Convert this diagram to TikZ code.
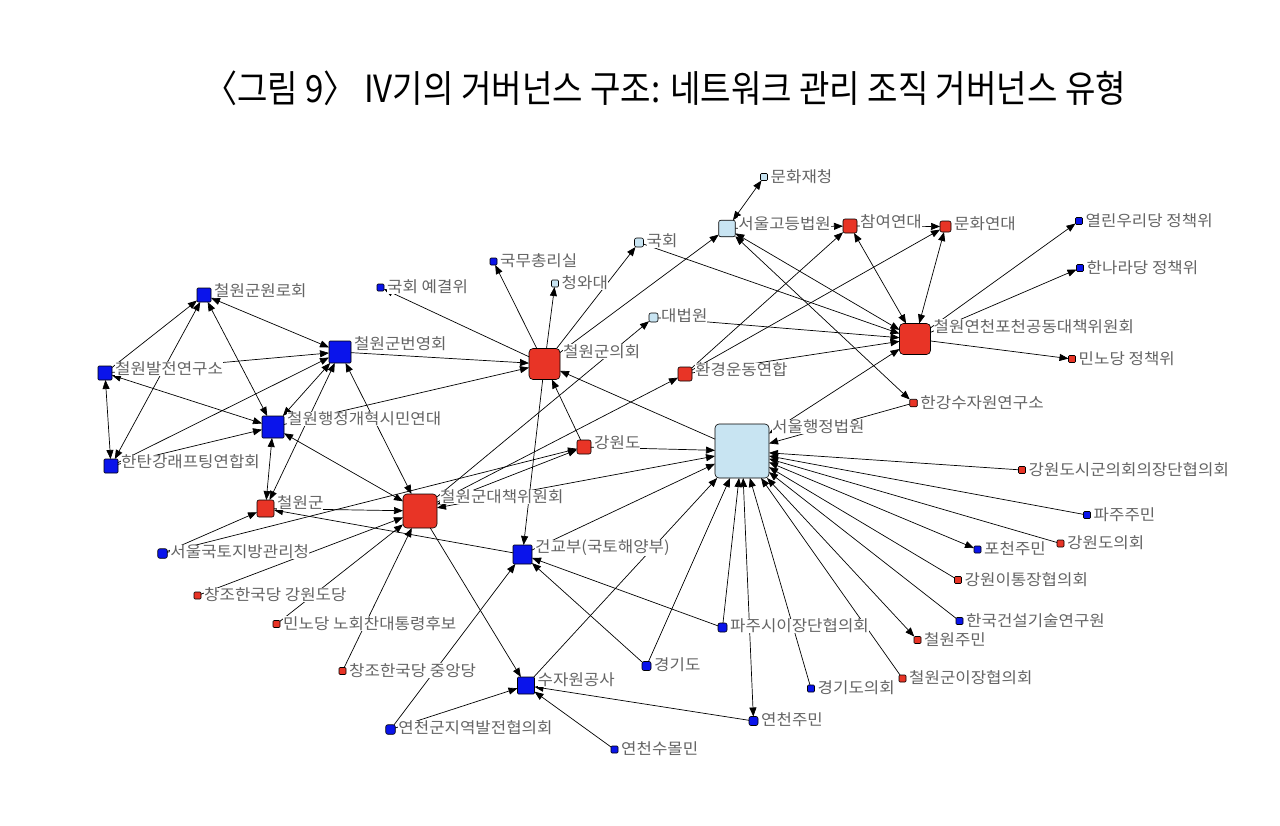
\documentclass[tikz,border=0pt]{standalone}
\usepackage{fontspec}
\setmainfont{Noto Sans CJK KR}
\newfontfamily\labfont[FakeStretch=1.08]{Noto Sans CJK KR}
\usetikzlibrary{arrows.meta}
\definecolor{nred}{RGB}{232,52,38}
\definecolor{nblue}{RGB}{10,20,235}
\definecolor{nlight}{RGB}{200,228,242}
\definecolor{labgray}{RGB}{100,100,100}
\tikzset{
  nd/.style={draw=black, line width=0.6pt, rectangle, inner sep=0pt, outer sep=0pt, minimum size=#1, rounded corners=1pt},
  big/.style={rounded corners=4pt},
  mid/.style={rounded corners=2pt},
  rd/.style={nd=#1, fill=nred},
  bl/.style={nd=#1, fill=nblue},
  lb/.style={nd=#1, fill=nlight},
  lab/.style={font=\labfont\fontsize{15.5}{16}\selectfont, text=labgray, fill=white, anchor=west, inner sep=0pt},
  ar/.style={-{Triangle[length=9pt,width=7pt]}, line width=0.7pt},
  bi/.style={{Triangle[length=9pt,width=7pt]}-{Triangle[length=9pt,width=7pt]}, line width=0.7pt},
}
\newcommand{\lbl}[2]{\node[lab] (#1t) at ([xshift=3pt,yshift=-3pt]#1.north east) {#2};}
\begin{document}
\begin{tikzpicture}[x=1pt,y=-1pt]
\fill[white] (0,0) rectangle (1280,825);
\useasboundingbox (0,0) rectangle (1280,825);

\node[font=\fontsize{34}{40}\selectfont] (title) at (665,88)
  {\resizebox{922pt}{1.1\height}{〈그림 9〉 IV기의 거버넌스 구조: 네트워크 관리 조직 거버넌스 유형}};

% blue nodes
\node[bl=14pt] (b1) at (204,295) {};
\node[bl=22pt] (b2) at (340,352) {};
\node[bl=14pt] (b3) at (105,373) {};
\node[bl=22pt] (b4) at (273,427) {};
\node[bl=14pt] (b5) at (111,466) {};
\node[bl=7pt] (b6) at (380.5,287.5) {};
\node[bl=7pt] (b7) at (493.5,261.5) {};
\node[bl=19pt] (b8) at (522.5,554.5) {};
\node[bl=17pt] (b9) at (526,685.5) {};
\node[bl=9.5pt,mid] (b10) at (162.5,553.5) {};
\node[bl=9.5pt,mid] (b11) at (390.5,729.5) {};
\node[bl=7pt] (b12) at (614.5,749.5) {};
\node[bl=9pt,mid] (b13) at (753.5,721) {};
\node[bl=9pt,mid] (b14) at (646.5,666) {};
\node[bl=9pt,mid] (b15) at (722.5,627.5) {};
\node[bl=7pt] (b16) at (811,688.5) {};
\node[bl=7pt] (b17) at (959.5,621) {};
\node[bl=7pt] (b18) at (977.5,549.5) {};
\node[bl=7pt] (b19) at (1087,515) {};
\node[bl=7pt] (b20) at (1079,221) {};
\node[bl=7pt] (b21) at (1080,268) {};

% red nodes
\node[rd=31pt,big] (r1) at (544.5,364) {};
\node[rd=34pt,big] (r2) at (420,511) {};
\node[rd=31pt,big] (r3) at (915,339) {};
\node[rd=17pt,mid] (r4) at (265.5,508.5) {};
\node[rd=14pt,mid] (r5) at (584,447) {};
\node[rd=14pt,mid] (r6) at (685,374) {};
\node[rd=14pt,mid] (r7) at (850,226) {};
\node[rd=11pt,mid] (r8) at (945.5,226.5) {};
\node[rd=7.5pt] (r9) at (913.5,403) {};
\node[rd=7pt] (r10) at (1072,359) {};
\node[rd=7pt] (r11) at (1022,470) {};
\node[rd=7pt] (r12) at (1060.5,543.5) {};
\node[rd=7pt] (r13) at (958,580) {};
\node[rd=7pt] (r14) at (917.5,640) {};
\node[rd=7pt] (r15) at (902.5,678.5) {};
\node[rd=7pt] (r16) at (197.5,595.5) {};
\node[rd=7pt] (r17) at (276.5,624) {};
\node[rd=7pt] (r18) at (342.5,671) {};

% light blue nodes
\node[lb=54pt,big] (l1) at (742,451) {};
\node[lb=16.5pt,mid] (l2) at (727,228.5) {};
\node[lb=7pt] (l3) at (764,177) {};
\node[lb=9pt,mid] (l4) at (639,242.5) {};
\node[lb=7pt] (l5) at (555,283.5) {};
\node[lb=9pt,mid] (l6) at (653.5,317.5) {};

% edges
\draw[ar] (b3) -- (b1);
\draw[bi] (b5) -- (b1);
\draw[bi] (b1) -- (b4);
\draw[bi] (b1) -- (b2);
\draw[ar] (b3) -- (b2);
\draw[bi] (b3) -- (b5);
\draw[bi] (b3) -- (b4);
\draw[ar] (b5) -- (b2);
\draw[ar] (b5) -- (b4);
\draw[bi] (b4) -- (b2);
\draw[bi] (r4) -- (b4);
\draw[bi] (r4) -- (b2);
\draw[ar] (b2) -- (r1);
\draw[ar] (b4) -- (r1);
\draw[bi] (b2) -- (r2);
\draw[bi] (b4) -- (r2);
\draw[ar] (r4) -- (r2);
\draw[ar] (b8) -- (r4);
\draw[ar] (b10) -- (r4);
\draw[ar] (b10) -- (r5);
\draw[ar] (r16) -- (r2);
\draw[ar] (r17) -- (r2);
\draw[ar] (r18) -- (r2);
\draw[ar] (b11) -- (b8);
\draw[ar] (b11) -- (b9);
\draw[ar] (r2) -- (b9);
\draw[bi] (r2) -- (r5);
\draw[ar] (r2) -- (r6);
\draw[bi] (r2) -- (l1);
\draw[ar] (r2) -- (l6);
\draw[ar] (r5) -- (r1);
\draw[ar] (l1) -- (r1);
\draw[ar] (r1) -- (b8);
\draw[ar] (r1) -- (b6);
\draw[ar] (r1) -- (b7);
\draw[ar] (r1) -- (l5);
\draw[ar] (r1) -- (l4);
\draw[ar] (r1) -- (l2);
\draw[ar] (l4) -- (r3);
\draw[bi] (l2) -- (r3);
\draw[ar] (l6) -- (r3);
\draw[ar] (r6) -- (r3);
\draw[ar] (r6) -- (r7);
\draw[ar] (r6) -- (r8);
\draw[bi] (r9) -- (l2);
\draw[ar] (r9) -- (l1);
\draw[bi] (l1) -- (r3);
\draw[bi] (r3) -- (r7);
\draw[bi] (r3) -- (r8);
\draw[ar] (r3) -- (b20);
\draw[ar] (r3) -- (b21);
\draw[ar] (r3) -- (r10);
\draw[ar] (l2) -- (r7);
\draw[ar] (r7) -- (r8);
\draw[bi] (l3) -- (l2);
\draw[ar] (r11) -- (l1);
\draw[ar] (b19) -- (l1);
\draw[bi] (b18) -- (l1);
\draw[ar] (r12) -- (l1);
\draw[ar] (r13) -- (l1);
\draw[ar] (b17) -- (l1);
\draw[bi] (r14) -- (l1);
\draw[ar] (r15) -- (l1);
\draw[ar] (b16) -- (l1);
\draw[bi] (b13) -- (l1);
\draw[ar] (b15) -- (l1);
\draw[ar] (b14) -- (l1);
\draw[ar] (b9) -- (l1);
\draw[ar] (b8) -- (l1);
\draw[ar] (r5) -- (l1);
\draw[ar] (b14) -- (b8);
\draw[ar] (b15) -- (b8);
\draw[ar] (b13) -- (b9);
\draw[ar] (b12) -- (b9);

% labels
\lbl{b1}{철원군원로회}
\lbl{b2}{철원군번영회}
\lbl{b3}{철원발전연구소}
\lbl{b4}{철원행정개혁시민연대}
\lbl{b5}{한탄강래프팅연합회}
\lbl{b6}{국회 예결위}
\lbl{b7}{국무총리실}
\lbl{b8}{건교부(국토해양부)}
\lbl{b9}{수자원공사}
\lbl{b10}{서울국토지방관리청}
\lbl{b11}{연천군지역발전협의회}
\lbl{b12}{연천수몰민}
\lbl{b13}{연천주민}
\lbl{b14}{경기도}
\lbl{b15}{파주시이장단협의회}
\lbl{b16}{경기도의회}
\lbl{b17}{한국건설기술연구원}
\lbl{b18}{포천주민}
\lbl{b19}{파주주민}
\lbl{b20}{열린우리당 정책위}
\lbl{b21}{한나라당 정책위}
\lbl{r1}{철원군의회}
\lbl{r2}{철원군대책위원회}
\lbl{r3}{철원연천포천공동대책위원회}
\lbl{r4}{철원군}
\lbl{r5}{강원도}
\lbl{r6}{환경운동연합}
\lbl{r7}{참여연대}
\lbl{r8}{문화연대}
\lbl{r9}{한강수자원연구소}
\lbl{r10}{민노당 정책위}
\lbl{r11}{강원도시군의회의장단협의회}
\lbl{r12}{강원도의회}
\lbl{r13}{강원이통장협의회}
\lbl{r14}{철원주민}
\lbl{r15}{철원군이장협의회}
\lbl{r16}{창조한국당 강원도당}
\lbl{r17}{민노당 노회찬대통령후보}
\lbl{r18}{창조한국당 중앙당}
\lbl{l1}{서울행정법원}
\lbl{l2}{서울고등법원}
\lbl{l3}{문화재청}
\lbl{l4}{국회}
\lbl{l5}{청와대}
\lbl{l6}{대법원}
\end{tikzpicture}
\end{document}
